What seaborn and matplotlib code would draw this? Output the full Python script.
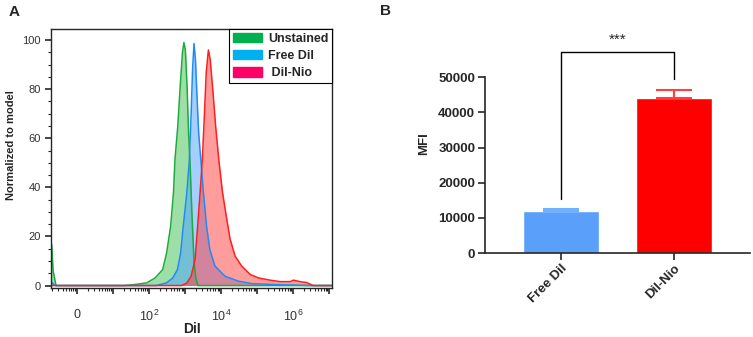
import numpy as np
import seaborn as sns
import matplotlib.pyplot as plt
from matplotlib.patches import Patch

sns.set_style("ticks")
plt.rcParams['font.family'] = ['Liberation Sans', 'DejaVu Sans']

# --- panel A: histograms (x in decades, 0 -> "0", 2 -> 10^2 ...) ---
unstained_x = [-0.72, -0.70, -0.66, -0.58, 1.3, 1.6, 1.94, 2.17, 2.38, 2.49, 2.60, 2.68, 2.72,
               2.80, 2.87, 2.93, 2.97, 3.01, 3.06, 3.10, 3.14, 3.19, 3.25, 3.30, 3.36, 7.1]
unstained_y = [17, 16.7, 6, 0, 0, 0.4, 1.1, 3.1, 6.5, 13.3, 24, 37.7, 51,
               65, 82, 95, 99, 96, 80, 62, 50, 30, 10, 3, 0, 0]

free_x = [-0.72, -0.68, -0.6, 2.2, 2.49, 2.66, 2.79, 2.88, 2.95, 3.05, 3.12, 3.17, 3.21, 3.25,
          3.29, 3.33, 3.38, 3.44, 3.51, 3.60, 3.69, 3.83, 4.11, 4.48, 4.85, 5.5, 6.5, 7.1]
free_y = [1.5, 1, 0, 0, 1.1, 3.1, 6.5, 13.3, 24, 37.7, 51, 70, 88, 98.6,
          92, 78, 62, 51, 38, 24, 14.6, 8, 3.8, 1.8, 0.8, 0.4, 0, 0]

nio_x = [-0.72, 2.9, 3.05, 3.17, 3.28, 3.35, 3.42, 3.48, 3.54, 3.59, 3.65, 3.70, 3.77, 3.85,
         3.94, 4.04, 4.16, 4.25, 4.39, 4.57, 4.81, 5.04, 5.36, 5.64, 5.92, 6.01, 6.19, 6.38,
         6.56, 7.1]
nio_y = [0, 0, 1, 3.8, 10.6, 24, 38, 51, 70, 87, 96, 92, 80, 65,
         51, 38, 27, 19, 12, 8, 4.5, 3.1, 2.2, 1.6, 1.6, 2.2, 1.6, 1.2,
         0, 0]

hist_labels = ["Unstained", "Free DiI", " DiI-Nio"]
legend_colors = ["#00b050", "#00b0f0", "#ff0066"]
line_colors = ["#1faa3c", "#1f8cf5", "#ff1f1f"]
fill_colors = ["#3cc050", "#4aa0ff", "#ff3a3a"]

# --- panel B: MFI bars ---
groups = ["Free DiI", "DiI-Nio"]
mfi_mean = [12000, 44200]
mfi_sd = [500, 2200]
bar_colors = ["#5aa0fa", "#ff0000"]
err_colors = ["#6fb0ff", "#ff4040"]

fig = plt.figure(figsize=(7.53, 3.37), dpi=100)

# Panel A
ax1 = fig.add_axes([0.0677, 0.1454, 0.3732, 0.7685])
series = [(unstained_x, unstained_y), (free_x, free_y), (nio_x, nio_y)]
for (xs, ys), lc, fc in zip(series, line_colors, fill_colors):
    ax1.fill_between(xs, ys, 0, color=fc, alpha=0.5, linewidth=0)
    sns.lineplot(x=xs, y=ys, color=lc, linewidth=1.1, sort=False, ax=ax1)

ax1.set_xlim(-0.72, 7.08)
ax1.set_ylim(-1, 104.5)
ax1.set_yticks([0, 20, 40, 60, 80, 100])
ax1.set_yticks(np.arange(0, 105, 5), minor=True)
ax1.set_xticks(range(0, 8))
ax1.set_xticklabels(["0", "", r"$\mathregular{10^2}$", "", r"$\mathregular{10^4}$", "",
                     r"$\mathregular{10^6}$", ""])
minor_x = [d + np.log10(k) for d in range(-1, 7) for k in range(2, 10)]
ax1.set_xticks([m for m in minor_x if -0.72 < m < 7.08], minor=True)
ax1.tick_params(axis="y", which="major", length=4, width=1.2, labelsize=8,
                labelcolor="#333333")
ax1.tick_params(axis="x", which="major", length=4, width=1.2, labelsize=9,
                labelcolor="#333333", pad=11)
ax1.tick_params(axis="both", which="minor", length=2.5, width=0.8)
for s in ax1.spines.values():
    s.set_linewidth(1.0)
ax1.set_ylabel("Normalized to model", fontsize=8, fontweight="bold")
ax1.yaxis.set_label_coords(-0.125, 0.55)
ax1.set_xlabel("DiI", fontsize=10, fontweight="bold")
ax1.xaxis.set_label_coords(0.5, -0.13)

handles = [Patch(facecolor=c, edgecolor=c) for c in legend_colors]
leg = ax1.legend(handles, hist_labels, loc="upper right", borderaxespad=0,
                 prop={"size": 9, "weight": "bold"}, handlelength=2.3, handleheight=0.8,
                 handletextpad=0.5, labelspacing=0.4, borderpad=0.3, fancybox=False,
                 framealpha=1)
leg.get_frame().set_edgecolor("black")
leg.get_frame().set_linewidth(0.8)

fig.text(0.011, 0.965, "A", fontsize=11, fontweight="bold", va="center")

# Panel B
ax2 = fig.add_axes([0.644, 0.249, 0.352, 0.647])
sns.barplot(x=groups, y=mfi_mean, hue=groups, palette=bar_colors, width=0.67,
            legend=False, ax=ax2, errorbar=None, saturation=1)
for i in range(len(groups)):
    ax2.errorbar(i, mfi_mean[i], yerr=[[0], [mfi_sd[i]]], color=err_colors[i],
                 capsize=13, capthick=1.5, elinewidth=1.5, fmt="none")
ax2.set_xlim(-0.67, 1.67)
ax2.set_ylim(0, 62000)
ax2.set_yticks(range(0, 50001, 10000))
ax2.spines["left"].set_bounds(0, 50000)
ax2.spines["top"].set_visible(False)
ax2.spines["right"].set_visible(False)
for s in ["left", "bottom"]:
    ax2.spines[s].set_linewidth(1.2)
ax2.tick_params(axis="y", length=5, width=1.2, labelsize=9.5, pad=2)
ax2.tick_params(axis="x", length=5, width=1.2, labelsize=9.5, pad=2)
for lab in ax2.get_yticklabels():
    lab.set_fontweight("bold")
ax2.set_xticks(range(len(groups)))
ax2.set_xticklabels(groups, rotation=45, ha="right", rotation_mode="anchor",
                    fontweight="bold")
ax2.set_ylabel("MFI", fontsize=9.5, fontweight="bold", labelpad=6)
ax2.set_xlabel("")

# significance bracket
ax2.plot([0, 0, 1, 1], [15500, 57300, 57300, 49400], color="black", linewidth=1.0,
         clip_on=False)
ax2.text(0.5, 58800, "***", ha="center", va="bottom", fontsize=11)

fig.text(0.505, 0.968, "B", fontsize=11, fontweight="bold", va="center")

fig.savefig("out.png", dpi=100)
